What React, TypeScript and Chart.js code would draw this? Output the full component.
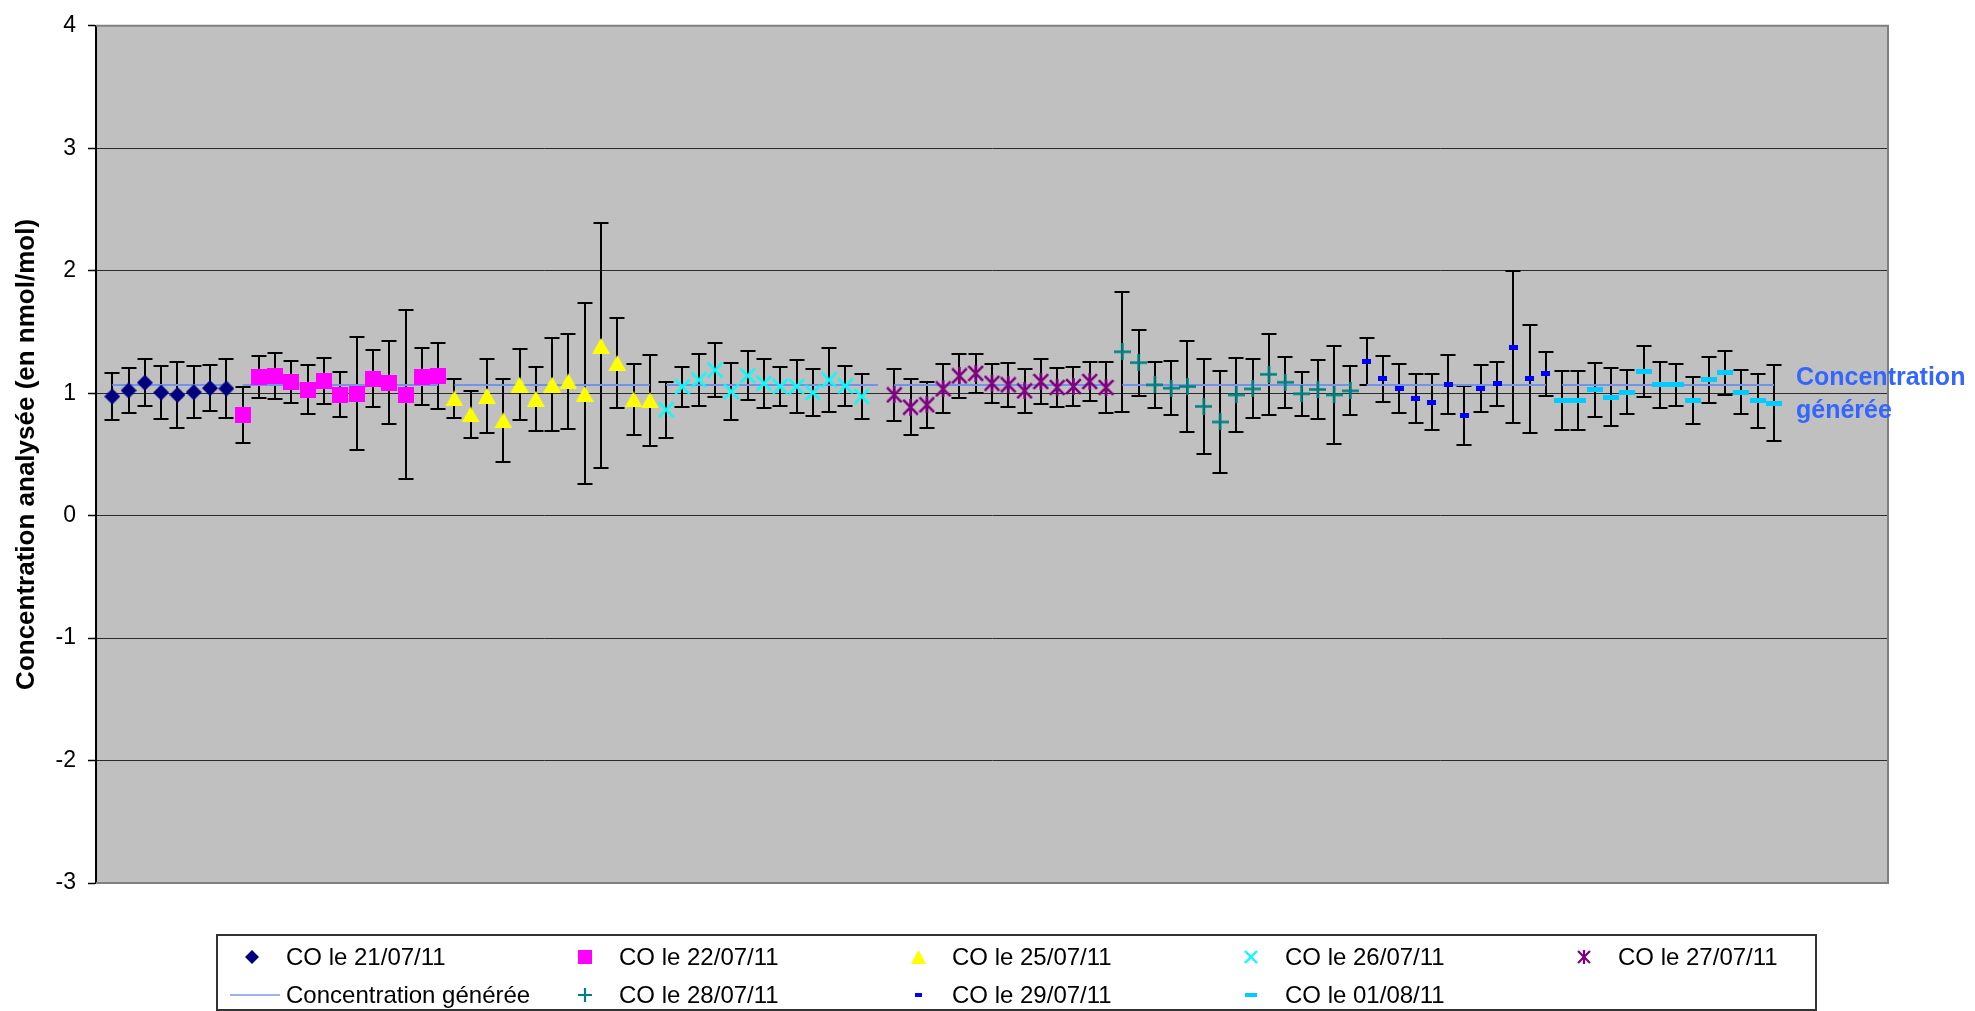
import { useEffect, useRef } from 'react';
import { Chart, registerables } from 'chart.js';

Chart.register(...registerables);

// ---- Data -----------------------------------------------------------------

const seriesNames = [
  'CO le 21/07/11',
  'CO le 22/07/11',
  'CO le 25/07/11',
  'CO le 26/07/11',
  'CO le 27/07/11',
  'CO le 28/07/11',
  'CO le 29/07/11',
  'CO le 01/08/11',
];

// run number of the first measurement of each day
const firstRun = [1, 9, 22, 35, 49, 63, 78, 90];

const co210711 = [0.973, 1.022, 1.086, 1.005, 0.986, 1.008, 1.041, 1.038];
const co210711Err = [0.19, 0.18, 0.19, 0.22, 0.27, 0.21, 0.19, 0.24];

const co220711 = [0.824, 1.13, 1.141, 1.089, 1.027, 1.1, 0.989, 0.997, 1.119, 1.086, 0.986, 1.135, 1.141];
const co220711Err = [0.23, 0.17, 0.19, 0.17, 0.2, 0.19, 0.18, 0.46, 0.23, 0.34, 0.69, 0.23, 0.27];

const co250711 = [0.957, 0.827, 0.978, 0.778, 1.07, 0.954, 1.07, 1.097, 0.995, 1.386, 1.246, 0.949, 0.941];
const co250711Err = [0.16, 0.19, 0.3, 0.34, 0.29, 0.26, 0.38, 0.39, 0.74, 1.0, 0.37, 0.29, 0.37];

const co260711 = [0.865, 1.051, 1.108, 1.189, 1.014, 1.143, 1.081, 1.054, 1.054, 1.005, 1.108, 1.059, 0.973];
const co260711Err = [0.23, 0.16, 0.21, 0.22, 0.23, 0.2, 0.2, 0.16, 0.22, 0.19, 0.26, 0.16, 0.18];

const co270711 = [0.986, 0.886, 0.905, 1.035, 1.141, 1.162, 1.081, 1.068, 1.019, 1.095, 1.046, 1.054, 1.095, 1.046];
const co270711Err = [0.21, 0.23, 0.19, 0.2, 0.18, 0.16, 0.16, 0.18, 0.18, 0.18, 0.16, 0.16, 0.16, 0.21];

const co280711 = [1.338, 1.249, 1.068, 1.041, 1.054, 0.892, 0.765, 0.986, 1.035, 1.154, 1.089, 0.995, 1.03, 0.986, 1.019];
const co280711Err = [0.49, 0.27, 0.19, 0.22, 0.37, 0.39, 0.42, 0.3, 0.24, 0.33, 0.21, 0.18, 0.24, 0.4, 0.2];

const co290711 = [1.257, 1.116, 1.038, 0.957, 0.927, 1.068, 0.816, 1.038, 1.078, 1.376, 1.116, 1.159];
const co290711Err = [0.19, 0.19, 0.2, 0.2, 0.23, 0.24, 0.24, 0.19, 0.18, 0.62, 0.44, 0.18];

const co010811 = [0.938, 0.938, 1.027, 0.968, 1.008, 1.176, 1.068, 1.068, 0.938, 1.108, 1.168, 1.008, 0.938, 0.919];
const co010811Err = [0.24, 0.24, 0.22, 0.24, 0.18, 0.21, 0.19, 0.17, 0.19, 0.19, 0.18, 0.18, 0.22, 0.31];

const seriesValues = [co210711, co220711, co250711, co260711, co270711, co280711, co290711, co010811];
const seriesErrors = [co210711Err, co220711Err, co250711Err, co260711Err, co270711Err, co280711Err, co290711Err, co010811Err];

// generated (reference) concentration and the run ranges it covers
const generatedName = 'Concentration générée';
const generatedLevel = 1.067;
const generatedRuns = [[1, 8], [9, 21], [22, 34], [35, 48], [49, 62], [63, 77], [78, 89], [90, 103]];

const yTicks = { min: -3, max: 4, step: 1 };
const runAxis = { min: 0, max: 110 };
const yTitle = 'Concentration analysée (en nmol/mol)';

// ---- Styling ---------------------------------------------------------------

type MarkerKind = 'diamond' | 'square' | 'triangle' | 'cross' | 'star' | 'plus' | 'dash' | 'wideDash';

const markerKinds: MarkerKind[] = ['diamond', 'square', 'triangle', 'cross', 'star', 'plus', 'dash', 'wideDash'];
const markerColors = ['#000080', '#FF00FF', '#FFFF00', '#00FFFF', '#800080', '#008080', '#0000FF', '#00CCFF'];
const generatedColor = '#7393E6';
const FONT = '"Liberation Sans", Arial, sans-serif';

const markerSize: Record<MarkerKind, [number, number]> = {
  diamond: [16, 16],
  square: [16, 16],
  triangle: [18, 16],
  cross: [17, 17],
  star: [17, 17],
  plus: [17, 17],
  dash: [9, 5],
  wideDash: [16, 5],
};

function makeMarker(kind: MarkerKind, color: string, scale: number): HTMLCanvasElement {
  const [w0, h0] = markerSize[kind];
  const w = Math.max(2, Math.round(w0 * scale));
  const h = Math.max(2, Math.round(h0 * scale));
  const c = document.createElement('canvas');
  c.width = w;
  c.height = h;
  const g = c.getContext('2d')!;
  g.fillStyle = color;
  g.strokeStyle = color;
  g.lineWidth = 2.6 * scale;
  g.lineCap = 'butt';
  const m = 1.2 * scale;
  switch (kind) {
    case 'diamond':
      g.beginPath();
      g.moveTo(w / 2, 0);
      g.lineTo(w, h / 2);
      g.lineTo(w / 2, h);
      g.lineTo(0, h / 2);
      g.closePath();
      g.fill();
      break;
    case 'square':
    case 'dash':
    case 'wideDash':
      g.fillRect(0, 0, w, h);
      break;
    case 'triangle':
      g.beginPath();
      g.moveTo(w / 2, 0);
      g.lineTo(w, h);
      g.lineTo(0, h);
      g.closePath();
      g.fill();
      break;
    case 'cross':
      g.beginPath();
      g.moveTo(m, m);
      g.lineTo(w - m, h - m);
      g.moveTo(w - m, m);
      g.lineTo(m, h - m);
      g.stroke();
      break;
    case 'star':
      g.beginPath();
      g.moveTo(m, m);
      g.lineTo(w - m, h - m);
      g.moveTo(w - m, m);
      g.lineTo(m, h - m);
      g.moveTo(w / 2, 0);
      g.lineTo(w / 2, h);
      g.stroke();
      break;
    case 'plus':
      g.beginPath();
      g.moveTo(w / 2, 0);
      g.lineTo(w / 2, h);
      g.moveTo(0, h / 2);
      g.lineTo(w, h / 2);
      g.stroke();
      break;
  }
  return c;
}

// ---- Plugins ---------------------------------------------------------------

const plotBackground = {
  id: 'plotBackground',
  beforeDraw(chart: any) {
    const { ctx, chartArea: a } = chart;
    ctx.save();
    ctx.fillStyle = '#C0C0C0';
    ctx.fillRect(a.left, a.top, a.right - a.left, a.bottom - a.top);
    ctx.restore();
  },
};

const errorBars = {
  id: 'errorBars',
  beforeDatasetsDraw(chart: any) {
    const { ctx, chartArea: a, scales } = chart;
    const xs = scales.x;
    const ys = scales.y;
    ctx.save();
    ctx.beginPath();
    ctx.rect(a.left, a.top, a.right - a.left, a.bottom - a.top);
    ctx.clip();
    ctx.strokeStyle = '#000';
    ctx.lineWidth = 2;
    chart.data.datasets.forEach((ds: any) => {
      if (!ds.errors) return;
      ds.data.forEach((p: any, j: number) => {
        const e = ds.errors[j];
        const px = Math.round(xs.getPixelForValue(p.x));
        const top = Math.round(ys.getPixelForValue(p.y + e));
        const bot = Math.round(ys.getPixelForValue(p.y - e));
        ctx.beginPath();
        ctx.moveTo(px, top);
        ctx.lineTo(px, bot);
        ctx.moveTo(px - 7.5, top);
        ctx.lineTo(px + 7.5, top);
        ctx.moveTo(px - 7.5, bot);
        ctx.lineTo(px + 7.5, bot);
        ctx.stroke();
      });
    });
    ctx.restore();
  },
};

const frameAndLabels = {
  id: 'frameAndLabels',
  afterDraw(chart: any) {
    const { ctx, chartArea: a, scales } = chart;
    ctx.save();
    // plot frame (top, right, bottom)
    ctx.strokeStyle = '#808080';
    ctx.lineWidth = 2;
    ctx.beginPath();
    ctx.moveTo(a.left, a.top);
    ctx.lineTo(a.right, a.top);
    ctx.lineTo(a.right, a.bottom);
    ctx.lineTo(a.left, a.bottom);
    ctx.stroke();

    // label at the end of the generated-concentration line
    const lastRun = generatedRuns[generatedRuns.length - 1][1];
    const lx = scales.x.getPixelForValue(lastRun) + 22;
    const ly = scales.y.getPixelForValue(generatedLevel);
    ctx.fillStyle = '#3366FF';
    ctx.font = `bold 25px ${FONT}`;
    ctx.textAlign = 'left';
    ctx.textBaseline = 'alphabetic';
    ctx.fillText('Concentration', lx, ly);
    ctx.fillText('générée', lx, ly + 33);

    // legend box
    const box = { left: 217, top: 935, right: 1816, bottom: 1010 };
    ctx.strokeStyle = '#333';
    ctx.lineWidth = 2;
    ctx.strokeRect(box.left, box.top, box.right - box.left, box.bottom - box.top);

    const colX = [252, 585, 918, 1251, 1584];
    const rowY = [957, 995];
    const textGap = 34;
    ctx.font = `24px ${FONT}`;
    ctx.fillStyle = '#000';
    ctx.textBaseline = 'middle';
    const entries: { label: string; marker?: HTMLCanvasElement; line?: boolean }[] = [];
    const legendMarkers = markerKinds.map((k, i) => makeMarker(k, markerColors[i], k === 'dash' || k === 'wideDash' ? 0.75 : 0.85));
    for (let i = 0; i < 5; i++) entries.push({ label: seriesNames[i], marker: legendMarkers[i] });
    entries.push({ label: generatedName, line: true });
    for (let i = 5; i < seriesNames.length; i++) entries.push({ label: seriesNames[i], marker: legendMarkers[i] });

    entries.forEach((en, k) => {
      const cx = colX[k % 5];
      const cy = rowY[Math.floor(k / 5)];
      if (en.line) {
        ctx.strokeStyle = '#9DB3F0';
        ctx.lineWidth = 2;
        ctx.beginPath();
        ctx.moveTo(cx - 22, cy);
        ctx.lineTo(cx + 28, cy);
        ctx.stroke();
      } else if (en.marker) {
        const m = en.marker;
        ctx.drawImage(m, Math.round(cx - m.width / 2), Math.round(cy - m.height / 2));
      }
      ctx.fillStyle = '#000';
      ctx.fillText(en.label, cx + textGap, cy + 1);
    });
    ctx.restore();
  },
};

// ---- Component -------------------------------------------------------------

export default function App() {
  const canvasRef = useRef<HTMLCanvasElement | null>(null);

  useEffect(() => {
    document.body.style.margin = '0';
    const canvas = canvasRef.current;
    if (!canvas) return;

    const scatterSets = seriesNames.map((name, i) => ({
      type: 'scatter' as const,
      label: name,
      data: seriesValues[i].map((v, j) => ({ x: firstRun[i] + j, y: v })),
      errors: seriesErrors[i],
      pointStyle: makeMarker(markerKinds[i], markerColors[i], 1) as any,
      pointRadius: 8,
      showLine: false,
      order: 0,
    }));

    const generatedData: { x: number; y: number | null }[] = [];
    generatedRuns.forEach(([a, b]) => {
      generatedData.push({ x: a, y: generatedLevel });
      generatedData.push({ x: b, y: generatedLevel });
      generatedData.push({ x: b + 0.5, y: null });
    });

    const chart = new Chart(canvas, {
      type: 'scatter',
      data: {
        datasets: [
          ...scatterSets,
          {
            type: 'line' as const,
            label: generatedName,
            data: generatedData as any,
            borderColor: generatedColor,
            borderWidth: 2,
            pointRadius: 0,
            spanGaps: false,
            showLine: true,
            order: 10,
          },
        ] as any,
      },
      options: {
        responsive: false,
        animation: false,
        devicePixelRatio: 1,
        layout: { padding: { left: 0, top: 20, right: 87, bottom: 128 } },
        plugins: {
          legend: { display: false },
          tooltip: { enabled: false },
        },
        scales: {
          x: {
            type: 'linear',
            min: runAxis.min,
            max: runAxis.max,
            display: false,
          },
          y: {
            type: 'linear',
            min: yTicks.min,
            max: yTicks.max,
            afterFit: (scale: any) => {
              scale.width = 96;
            },
            ticks: {
              stepSize: yTicks.step,
              padding: 12,
              color: '#000',
              font: { family: FONT, size: 23 },
            },
            grid: {
              color: '#2a2a2a',
              lineWidth: 1,
              tickLength: 8,
              tickColor: '#000',
              tickWidth: 1.5,
            },
            border: { color: '#000', width: 2 },
            title: {
              display: true,
              text: yTitle,
              color: '#000',
              font: { family: FONT, size: 26, weight: 'bold' },
              padding: { top: 11, bottom: 0 },
            },
          },
        },
      },
      plugins: [plotBackground, errorBars, frameAndLabels],
    });

    return () => chart.destroy();
  }, []);

  return (
    <div style={{ width: 1975, height: 1011 }}>
      <canvas ref={canvasRef} width={1975} height={1011} style={{ display: 'block' }} />
    </div>
  );
}
